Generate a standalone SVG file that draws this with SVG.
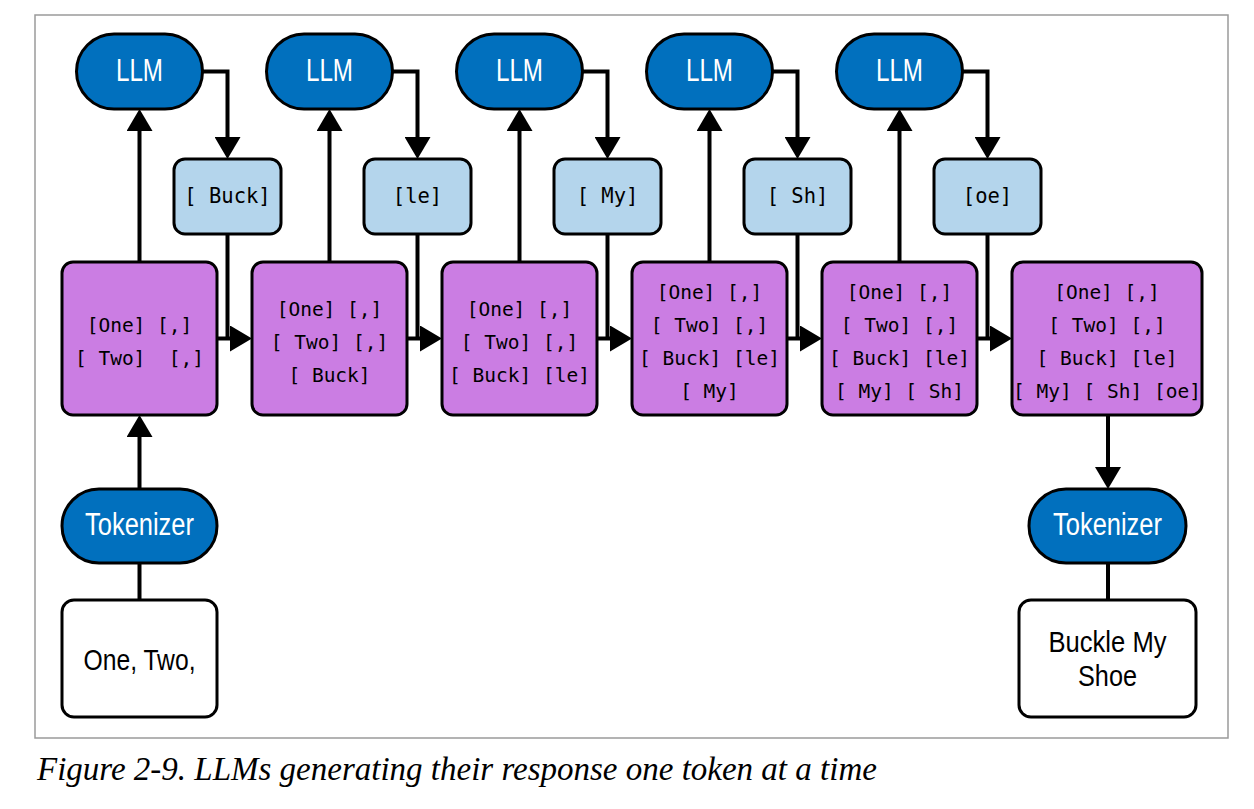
<svg xmlns="http://www.w3.org/2000/svg" width="1254" height="809" viewBox="0 0 1254 809">
<style>
.frame{fill:#fff;stroke:#9a9a9a;stroke-width:1.5}
.llm{fill:#0170BE;stroke:#000;stroke-width:3}
.tok{fill:#B4D5EC;stroke:#000;stroke-width:3}
.seq{fill:#CB7DE3;stroke:#000;stroke-width:3}
.txt{fill:#fff;stroke:#000;stroke-width:3}
.lbl{font-family:"Liberation Sans Narrow","Liberation Sans",Arial,sans-serif;font-size:31px;fill:#fff;text-anchor:middle}
.plain{font-family:"Liberation Sans Narrow","Liberation Sans",Arial,sans-serif;font-size:30px;fill:#000;text-anchor:middle}
.mono{font-family:"DejaVu Sans Mono",monospace;font-size:19.5px;fill:#000;text-anchor:middle;white-space:pre}
.monob{font-family:"DejaVu Sans Mono",monospace;font-size:20.5px;fill:#000;text-anchor:middle;white-space:pre}
.cap{font-family:"Liberation Serif","Times New Roman",serif;font-style:italic;font-size:33px;fill:#000}
.conn path{fill:none;stroke:#000;stroke-width:4}
</style>
<defs>
<marker id="ah" markerUnits="userSpaceOnUse" markerWidth="24" markerHeight="26" viewBox="0 0 22 26" refX="12" refY="13" orient="auto">
<path d="M0,0 L22,13 L0,26 z" fill="#000"/>
</marker>
</defs>
<rect class="frame" x="35" y="15" width="1193" height="723"/>
<g class="conn" id="connectors">
<path d="M139.5 262 V119" marker-end="url(#ah)"/>
<path d="M329.5 262 V119" marker-end="url(#ah)"/>
<path d="M519.5 262 V119" marker-end="url(#ah)"/>
<path d="M709.5 262 V119" marker-end="url(#ah)"/>
<path d="M899.5 262 V119" marker-end="url(#ah)"/>
<path d="M202.5 71.5 H227.5 V149" marker-end="url(#ah)"/>
<path d="M392.5 71.5 H417.5 V149" marker-end="url(#ah)"/>
<path d="M582.5 71.5 H607.5 V149" marker-end="url(#ah)"/>
<path d="M772.5 71.5 H797.5 V149" marker-end="url(#ah)"/>
<path d="M962.5 71.5 H987.5 V149" marker-end="url(#ah)"/>
<path d="M227.5 234 V338.5"/>
<path d="M417.5 234 V338.5"/>
<path d="M607.5 234 V338.5"/>
<path d="M797.5 234 V338.5"/>
<path d="M987.5 234 V338.5"/>
<path d="M217 338.5 H242" marker-end="url(#ah)"/>
<path d="M407 338.5 H432" marker-end="url(#ah)"/>
<path d="M597 338.5 H622" marker-end="url(#ah)"/>
<path d="M787 338.5 H812" marker-end="url(#ah)"/>
<path d="M977 338.5 H1002" marker-end="url(#ah)"/>
<path d="M139.5 489 V425" marker-end="url(#ah)"/>
<path d="M139.5 600 V563"/>
<path d="M1108 415 V479" marker-end="url(#ah)"/>
<path d="M1108 563 V600"/>
</g>
<g id="llm1"><rect class="llm" x="76.5" y="34" width="126" height="75" rx="37.5"/><text class="lbl" x="139.5" y="81" textLength="47" lengthAdjust="spacingAndGlyphs">LLM</text></g>
<g id="llm2"><rect class="llm" x="266.5" y="34" width="126" height="75" rx="37.5"/><text class="lbl" x="329.5" y="81" textLength="47" lengthAdjust="spacingAndGlyphs">LLM</text></g>
<g id="llm3"><rect class="llm" x="456.5" y="34" width="126" height="75" rx="37.5"/><text class="lbl" x="519.5" y="81" textLength="47" lengthAdjust="spacingAndGlyphs">LLM</text></g>
<g id="llm4"><rect class="llm" x="646.5" y="34" width="126" height="75" rx="37.5"/><text class="lbl" x="709.5" y="81" textLength="47" lengthAdjust="spacingAndGlyphs">LLM</text></g>
<g id="llm5"><rect class="llm" x="836.5" y="34" width="126" height="75" rx="37.5"/><text class="lbl" x="899.5" y="81" textLength="47" lengthAdjust="spacingAndGlyphs">LLM</text></g>
<g id="tok1"><rect class="tok" x="174" y="159" width="107" height="75" rx="11"/><text class="monob" x="227.5" y="203">[ Buck]</text></g>
<g id="tok2"><rect class="tok" x="364" y="159" width="107" height="75" rx="11"/><text class="monob" x="417.5" y="203">[le]</text></g>
<g id="tok3"><rect class="tok" x="554" y="159" width="107" height="75" rx="11"/><text class="monob" x="607.5" y="203">[ My]</text></g>
<g id="tok4"><rect class="tok" x="744" y="159" width="107" height="75" rx="11"/><text class="monob" x="797.5" y="203">[ Sh]</text></g>
<g id="tok5"><rect class="tok" x="934" y="159" width="107" height="75" rx="11"/><text class="monob" x="987.5" y="203">[oe]</text></g>
<g id="seq1"><rect class="seq" x="62" y="262" width="155" height="153" rx="11"/>
<text class="mono" x="139.5" y="332">[One] [,]</text><text class="mono" x="139.5" y="365">[ Two]  [,]</text></g>
<g id="seq2"><rect class="seq" x="252" y="262" width="155" height="153" rx="11"/>
<text class="mono" x="329.5" y="316">[One] [,]</text><text class="mono" x="329.5" y="349">[ Two] [,]</text><text class="mono" x="329.5" y="382">[ Buck]</text></g>
<g id="seq3"><rect class="seq" x="442" y="262" width="155" height="153" rx="11"/>
<text class="mono" x="519.5" y="316">[One] [,]</text><text class="mono" x="519.5" y="349">[ Two] [,]</text><text class="mono" x="519.5" y="382">[ Buck] [le]</text></g>
<g id="seq4"><rect class="seq" x="632" y="262" width="155" height="153" rx="11"/>
<text class="mono" x="709.5" y="299">[One] [,]</text><text class="mono" x="709.5" y="332">[ Two] [,]</text><text class="mono" x="709.5" y="365">[ Buck] [le]</text><text class="mono" x="709.5" y="398">[ My]</text></g>
<g id="seq5"><rect class="seq" x="822" y="262" width="155" height="153" rx="11"/>
<text class="mono" x="899.5" y="299">[One] [,]</text><text class="mono" x="899.5" y="332">[ Two] [,]</text><text class="mono" x="899.5" y="365">[ Buck] [le]</text><text class="mono" x="899.5" y="398">[ My] [ Sh]</text></g>
<g id="seq6"><rect class="seq" x="1012" y="262" width="190" height="153" rx="11"/>
<text class="mono" x="1107" y="299">[One] [,]</text><text class="mono" x="1107" y="332">[ Two] [,]</text><text class="mono" x="1107" y="365">[ Buck] [le]</text><text class="mono" x="1107" y="398">[ My] [ Sh] [oe]</text></g>
<g id="tokenizer1"><rect class="llm" x="62" y="489" width="155" height="74" rx="37"/><text class="lbl" x="139.5" y="535" textLength="109" lengthAdjust="spacingAndGlyphs">Tokenizer</text></g>
<g id="tokenizer2"><rect class="llm" x="1029" y="489" width="157" height="74" rx="37"/><text class="lbl" x="1107.5" y="535" textLength="109" lengthAdjust="spacingAndGlyphs">Tokenizer</text></g>
<g id="input"><rect class="txt" x="62" y="600" width="155" height="117" rx="12"/><text class="plain" x="139.5" y="670" textLength="112" lengthAdjust="spacingAndGlyphs">One, Two,</text></g>
<g id="output"><rect class="txt" x="1019" y="600" width="177" height="117" rx="12"/><text class="plain" x="1107.5" y="652" textLength="118" lengthAdjust="spacingAndGlyphs">Buckle My</text><text class="plain" x="1107.5" y="686" textLength="59" lengthAdjust="spacingAndGlyphs">Shoe</text></g>
<text class="cap" x="37" y="780">Figure 2-9. LLMs generating their response one token at a time</text>
</svg>
